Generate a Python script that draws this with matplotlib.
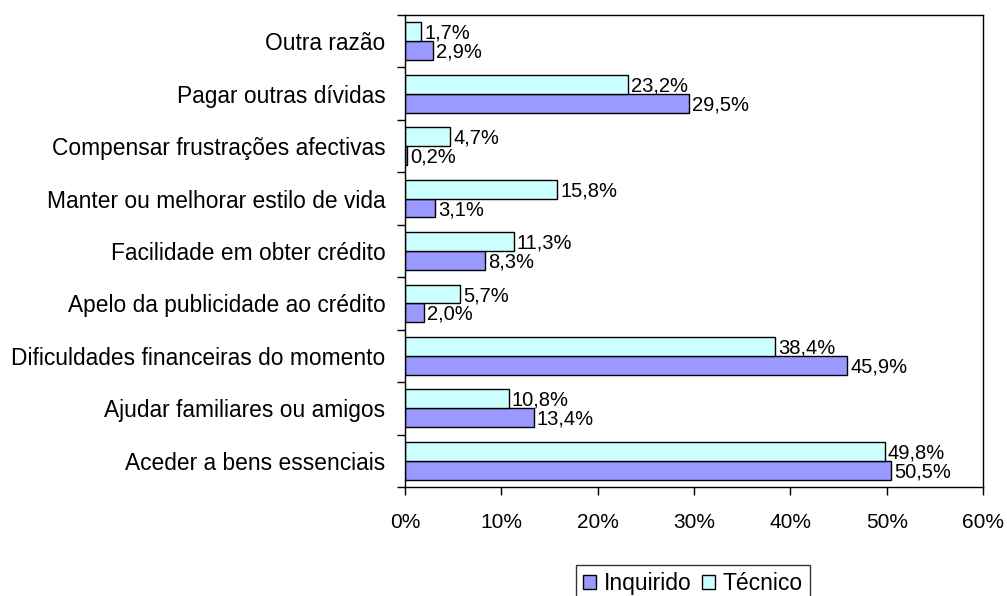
import matplotlib
matplotlib.use("Agg")
import matplotlib.pyplot as plt
import numpy as np

categories = ["Aceder a bens essenciais", "Ajudar familiares ou amigos",
              "Dificuldades financeiras do momento", "Apelo da publicidade ao crédito",
              "Facilidade em obter crédito", "Manter ou melhorar estilo de vida",
              "Compensar frustrações afectivas", "Pagar outras dívidas", "Outra razão"]
inquirido = [50.5, 13.4, 45.9, 2.0, 8.3, 3.1, 0.2, 29.5, 2.9]
tecnico = [49.8, 10.8, 38.4, 5.7, 11.3, 15.8, 4.7, 23.2, 1.7]
xticks = [0, 10, 20, 30, 40, 50, 60]

plt.rcParams['font.family'] = ['Liberation Sans', 'DejaVu Sans']

fig = plt.figure(figsize=(10.07, 5.96), dpi=100)
ax = fig.add_axes([405/1007, 1-487/596, 578/1007, 472/596])

y = np.arange(len(categories))
h = 0.36
b1 = ax.barh(y - h/2, inquirido, height=h, color='#9999FF', edgecolor='black', linewidth=1, label='Inquirido')
b2 = ax.barh(y + h/2, tecnico, height=h, color='#CCFFFF', edgecolor='black', linewidth=1, label='Técnico')

def fmt(v):
    return f"{v:.1f}%".replace('.', ',')

for bars, vals in ((b1, inquirido), (b2, tecnico)):
    for bar, v in zip(bars, vals):
        ax.text(v + 0.3, bar.get_y() + bar.get_height()/2 - 0.03, fmt(v), va='center', ha='left', fontsize=14.5)

ax.set_xlim(0, 60)
ax.set_ylim(-0.5, len(categories) - 0.5)
ax.set_xticks(xticks)
ax.set_xticklabels([f"{t}%" for t in xticks], fontsize=15)
ax.tick_params(axis='x', direction='out', length=6, width=1, pad=13)

ax.set_yticks(y)
ax.set_yticklabels(categories, fontsize=16.4)
ax.tick_params(axis='y', which='major', length=0, pad=14)
ax.set_yticks(np.arange(-0.5, len(categories)), minor=True)
ax.tick_params(axis='y', which='minor', direction='out', length=6, width=1)

for s in ax.spines.values():
    s.set_linewidth(1)
    s.set_color('black')

leg = fig.legend(handles=[b1, b2], loc='upper center', bbox_to_anchor=(693/1007, 1-565/596),
                 ncol=2, fontsize=16.5, frameon=True, fancybox=False, edgecolor='black',
                 handlelength=0.55, handleheight=0.55, handletextpad=0.35, columnspacing=0.45,
                 borderpad=0.3, borderaxespad=0)
leg.get_frame().set_linewidth(1)

fig.savefig("out.png", dpi=100)
